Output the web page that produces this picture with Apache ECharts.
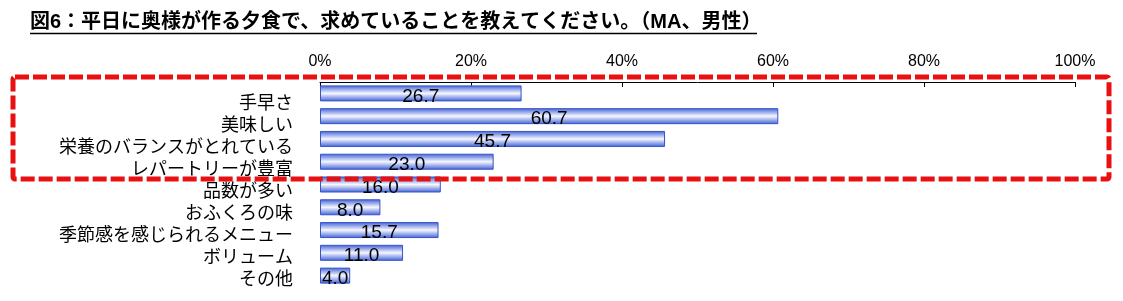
<!DOCTYPE html>
<html><head><meta charset="utf-8">
<script src="https://cdn.jsdelivr.net/npm/echarts@6/dist/echarts.min.js"></script>
<style>html,body{margin:0;padding:0;background:#fff}#c{width:1123px;height:301px}</style>
</head><body><div id="c"></div>
<script>
const titleText = '図6：平日に奥様が作る夕食で、求めていることを教えてください。（MA、男性）';
const categories = ['手早さ','美味しい','栄養のバランスがとれている','レパートリーが豊富','品数が多い','おふくろの味','季節感を感じられるメニュー','ボリューム','その他'];
const values = [26.7, 60.7, 45.7, 23.0, 16.0, 8.0, 15.7, 11.0, 4.0];
const tickLabels = ['0%','20%','40%','60%','80%','100%'];

const FONT = '"Liberation Sans", "Noto Sans CJK JP", sans-serif';
const chart = echarts.init(document.getElementById('c'), null, {renderer:'canvas'});
chart.setOption({
  animation:false,
  backgroundColor:'#fff',
  textStyle:{fontFamily:FONT},
  grid:[
    {left:320, right:48, top:82, height:205},
    {left:320, right:48, top:93, height:198}
  ],
  xAxis:[
    {gridIndex:0, type:'value', position:'top', min:0, max:100, interval:20,
     axisLine:{show:true, lineStyle:{color:'#000', width:1}},
     axisTick:{show:true, inside:true, length:5, lineStyle:{color:'#000'}},
     splitLine:{show:false},
     axisLabel:{margin:12, fontSize:16, color:'#000', fontFamily:FONT,
       formatter:function(v){return tickLabels[Math.round(v/20)];}}},
    {gridIndex:1, type:'value', min:0, max:100, show:false}
  ],
  yAxis:[
    {gridIndex:0, type:'category', inverse:true, data:categories,
     axisLine:{show:false}, axisTick:{show:false}, axisLabel:{show:false}},
    {gridIndex:1, type:'category', inverse:true, data:categories,
     axisLine:{show:false}, axisTick:{show:false},
     axisLabel:{show:true, interval:0, margin:27, fontSize:18, color:'#000', fontFamily:FONT}}
  ],
  series:[{
    type:'bar', xAxisIndex:0, yAxisIndex:0, data:values, barWidth:16,
    itemStyle:{
      color:new echarts.graphic.LinearGradient(0,0,0,1,[
        {offset:0, color:'#3f5fd6'},
        {offset:0.5, color:'#f6f8ff'},
        {offset:1, color:'#3f5fd6'}
      ]),
      borderColor:'#3555c8', borderWidth:1
    },
    label:{show:true, position:'inside', offset:[0,3], fontSize:19, color:'#000',
      fontFamily:FONT, formatter:function(p){return p.value.toFixed(1);}}
  }],
  graphic:[
    {type:'text', left:30, top:12, z:10,
     style:{text:titleText, fontSize:20, fontWeight:'bold', fill:'#000', fontFamily:FONT}},
    {type:'line', z:10, shape:{x1:30, y1:33.5, x2:757, y2:33.5}, style:{stroke:'#000', lineWidth:1.5}},
    {type:'rect', z:20, shape:{x:13, y:77, width:1096, height:102, r:2},
     style:{fill:null, stroke:'#e81010', lineWidth:5, lineDash:[14,4]}}
  ]
});
</script></body></html>
